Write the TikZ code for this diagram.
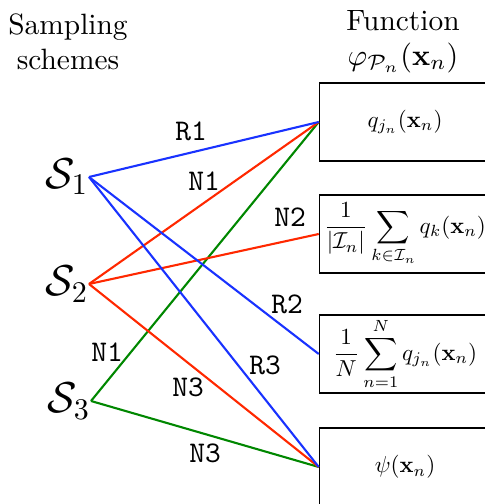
\documentclass[tikz,border=0pt]{standalone}
\usepackage{amsmath}
\usepackage{graphicx}
\definecolor{lblue}{RGB}{25,50,255}
\definecolor{lred}{RGB}{255,40,0}
\definecolor{lgreen}{RGB}{0,135,0}
\newcommand{\boxmath}[1]{\scalebox{0.77}{$\displaystyle #1$}}
\begin{document}
\begin{tikzpicture}[x=0.3333pt,y=-0.3333pt,
  fbox/.style={draw,line width=0.5pt,minimum width=57pt,minimum height=26pt,inner sep=0.6pt},
  snode/.style={inner sep=0pt,font=\Large},
  lab/.style={font=\ttfamily,inner sep=0pt},
  head/.style={align=center,font=\fontsize{9.8}{11.5}\selectfont,inner sep=0pt},
  conn/.style={line width=0.7pt}]
\useasboundingbox (0,0) rectangle (484,504);
% headings
\node[head] (h1) at (68,42) {Sampling\\schemes};
\node[head] (h2) at (403,42) {Function\\$\varphi_{\mathcal{P}_n}(\mathbf{x}_n)$};
% boxes
\node[fbox] (b1) at (405,122) {\boxmath{q_{j_n}(\mathbf{x}_n)}};
\node[fbox] (b2) at (405,234) {\boxmath{\frac{1}{|\mathcal{I}_n|}\sum_{k\in\mathcal{I}_n} q_k(\mathbf{x}_n)}};
\node[fbox] (b3) at (405,354) {\boxmath{\frac{1}{N}\sum_{n=1}^{N} q_{j_n}(\mathbf{x}_n)}};
\node[fbox] (b4) at (405,467) {\boxmath{\psi(\mathbf{x}_n)}};
% sampling schemes
\node[snode,anchor=east] (s1) at (89,177) {$\mathcal{S}_1$};
\node[snode,anchor=east] (s2) at (89,284) {$\mathcal{S}_2$};
\node[snode,anchor=east] (s3) at (91,401) {$\mathcal{S}_3$};
% connectors
\draw[conn,lgreen] (s3.east) -- (b1.west);
\draw[conn,lgreen] (s3.east) -- (b4.west);
\draw[conn,lred] (s2.east) -- (b1.west);
\draw[conn,lred] (s2.east) -- (b2.west);
\draw[conn,lred] (s2.east) -- (b4.west);
\draw[conn,lblue] (s1.east) -- (b1.west);
\draw[conn,lblue] (s1.east) -- (b3.west);
\draw[conn,lblue] (s1.east) -- (b4.west);
% labels
\node[lab] (l1) at (191,131) {R1};
\node[lab] (l2) at (204,181) {N1};
\node[lab] (l3) at (290,217) {N2};
\node[lab] (l4) at (287,304) {R2};
\node[lab] (l5) at (107,352) {N1};
\node[lab] (l6) at (265,365) {R3};
\node[lab] (l7) at (188,387) {N3};
\node[lab] (l8) at (205,453) {N3};
\end{tikzpicture}
\end{document}
